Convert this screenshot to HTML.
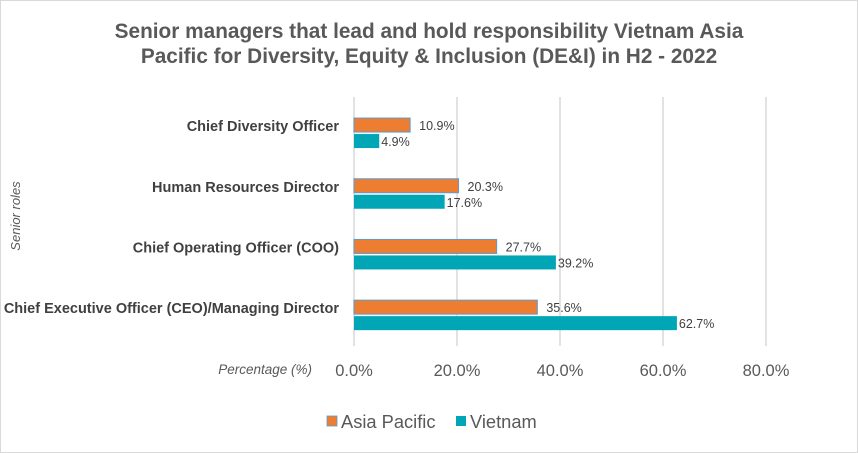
<!DOCTYPE html>
<html><head><meta charset="utf-8">
<style>
body{margin:0;background:#fff;}
svg{display:block;font-family:"Liberation Sans",sans-serif;}
</style></head>
<body>
<svg id="chart" width="858" height="453" viewBox="0 0 858 453">
<rect x="0.5" y="0.5" width="857" height="452" fill="#fff" stroke="#d9d9d9"/>
<text x="429" y="38" text-anchor="middle" font-size="20.8" font-weight="bold" fill="#595959">Senior managers that lead and hold responsibility Vietnam Asia</text>
<text x="429" y="63" text-anchor="middle" font-size="20.8" font-weight="bold" fill="#595959">Pacific for Diversity, Equity &amp; Inclusion (DE&amp;I) in H2 - 2022</text>
<text transform="translate(20,216) rotate(-90)" text-anchor="middle" font-size="13" font-style="italic" fill="#595959">Senior roles</text>
<text x="312" y="374" text-anchor="end" font-size="13.5" font-style="italic" fill="#595959">Percentage (%)</text>
<g id="grid"></g>
<g id="bars"></g>
<g id="legend">
<rect x="327" y="416" width="10" height="10" fill="#ED7D31" stroke="#5B9BD5" stroke-width="0.8"/>
<text x="341" y="428" font-size="18.3" fill="#595959">Asia Pacific</text>
<rect x="456" y="416" width="10" height="10" fill="#00A6B5"/>
<text x="470" y="428" font-size="18.3" fill="#595959">Vietnam</text>
</g>
</svg>
<script>
const categories = ["Chief Diversity Officer","Human Resources Director","Chief Operating Officer (COO)","Chief Executive Officer (CEO)/Managing Director"];
const asiaPacific = [10.9, 20.3, 27.7, 35.6];
const vietnam = [4.9, 17.6, 39.2, 62.7];
const ticks = [0, 20, 40, 60, 80];

const ns = "http://www.w3.org/2000/svg";
const x0 = 354, x1 = 766, xMax = 80;
const gTop = 97, gBot = 346;
const rTop = 102.7, rBot = 345.5;
const xs = v => x0 + (v / xMax) * (x1 - x0);
const rowH = (rBot - rTop) / categories.length;
const rowC = i => rTop + rowH * (i + 0.5);
function mk(tag, attrs, parent) {
  const e = document.createElementNS(ns, tag);
  for (const k in attrs) e.setAttribute(k, attrs[k]);
  parent.appendChild(e);
  return e;
}
const grid = document.getElementById('grid');
const bars = document.getElementById('bars');
ticks.forEach(t => {
  const l = mk('line', {x1: xs(t), x2: xs(t), y1: gTop, y2: gBot, stroke: '#d9d9d9', 'stroke-width': 1.5}, grid);
  
  
  const tx = mk('text', {x: xs(t), y: 376, 'text-anchor': 'middle', 'font-size': 16.5, fill: '#595959'}, grid);
  tx.textContent = t.toFixed(1) + '%';
  
  
});
const bh = 14;
categories.forEach((c, i) => {
  const cy = rowC(i);
  const lab = mk('text', {x: 339, y: cy - 2, 'text-anchor': 'end', 'font-size': 14.5, 'font-weight': 'bold', fill: '#404040'}, bars);
  lab.textContent = c;
  
  
  const a = asiaPacific[i], v = vietnam[i];
  const ra = mk('rect', {x: x0, y: cy - bh - 1, width: xs(a) - x0, height: bh, fill: '#ED7D31', stroke: '#5B9BD5', 'stroke-width': 1}, bars);
  
  
  const ta = mk('text', {x: xs(a) + 9, y: cy - 3, 'font-size': 12.5, fill: '#404040'}, bars);
  ta.textContent = a.toFixed(1) + '%';
  
  
  const rv = mk('rect', {x: x0, y: cy + 1, width: xs(v) - x0, height: bh, fill: '#00A6B5'}, bars);
  
  
  const tv = mk('text', {x: xs(v) + 2, y: cy + 13, 'font-size': 12.5, fill: '#404040'}, bars);
  tv.textContent = v.toFixed(1) + '%';
  
  
});
</script>
</body></html>
